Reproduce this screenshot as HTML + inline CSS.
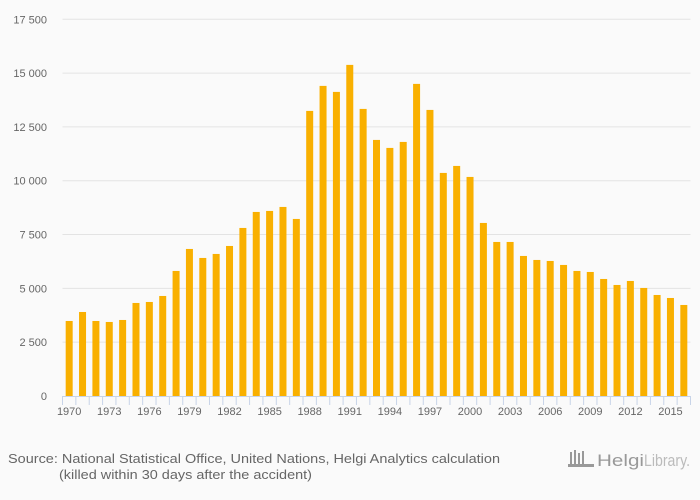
<!DOCTYPE html>
<html><head><meta charset="utf-8"><style>
html,body{margin:0;padding:0;background:#fafafa;}
svg{display:block;font-family:"Liberation Sans",sans-serif;}
</style></head><body>
<svg id="chart" width="700" height="500" viewBox="0 0 700 500">
<rect width="700" height="500" fill="#fafafa"/>
<g id="grid"></g>
<g id="yticks"></g>
<g id="bars"></g>
<g id="xaxis"></g>
<text x="8" y="463" font-size="13" fill="#666" textLength="492" lengthAdjust="spacingAndGlyphs">Source: National Statistical Office, United Nations, Helgi Analytics calculation</text>
<text x="59" y="479" font-size="13" fill="#666" textLength="253" lengthAdjust="spacingAndGlyphs">(killed within 30 days after the accident)</text>
<g>
<g fill="#999"><rect x="570" y="452" width="2" height="14"/><rect x="574" y="450" width="2" height="16"/><rect x="578" y="453" width="2" height="13"/><rect x="582" y="451" width="2" height="15"/><rect x="568" y="464" width="26" height="3"/></g>
<text x="597" y="466" font-size="17" fill="#999" textLength="47" lengthAdjust="spacingAndGlyphs">Helgi</text>
<text x="644" y="466" font-size="17" fill="#bbb" textLength="46" lengthAdjust="spacingAndGlyphs">Library.</text>
</g>
</svg>
<script>
const years=[];for(let y=1970;y<=2016;y++)years.push(y);
const values=[3485,3903,3485,3439,3532,4322,4368,4647,5809,6831,6413,6599,6970,7807,8550,8597,8783,8225,13244,14406,14127,15382,13337,11896,11525,11803,14499,13290,10363,10688,10177,8039,7156,7156,6506,6320,6273,6088,5809,5762,5437,5158,5344,5019,4693,4554,4229];
const yTicks=[0,2500,5000,7500,10000,12500,15000,17500];
const yTickLabels=["0","2 500","5 000","7 500","10 000","12 500","15 000","17 500"];
const NS="http://www.w3.org/2000/svg";
const L=62.5,R=690.5,Y0=396,Y1=19.3,VMAX=17500;
const band=(R-L)/years.length;
const ys=v=>Y0-(v/VMAX)*(Y0-Y1);
const xs=i=>L+band*(i+0.5);
function mk(t,a,p){const e=document.createElementNS(NS,t);for(const k in a)e.setAttribute(k,a[k]);p.appendChild(e);return e;}
const grid=document.getElementById('grid'),yt=document.getElementById('yticks'),bars=document.getElementById('bars'),xa=document.getElementById('xaxis');
yTicks.forEach((v,i)=>{
 if(v>0){const g=mk('line',{x1:L,x2:R,y1:ys(v),y2:ys(v),stroke:'#e3e3e3','stroke-width':1},grid);
 
 }
 const t=mk('text',{x:47,y:ys(v)+4,'font-size':11,fill:'#666','text-anchor':'end'},yt);
 t.textContent=yTickLabels[i];
 
 
});
values.forEach((v,i)=>{
 const r=mk('rect',{x:xs(i)-3.5,y:ys(v),width:7,height:Y0-ys(v),fill:'#f9b000'},bars);
 
 
});
const ax=mk('line',{x1:L,x2:R,y1:Y0+0.5,y2:Y0+0.5,stroke:'#c8d4e8','stroke-width':1},xa);


for(let i=0;i<=years.length;i++){
 const x=L+band*i;
 const tk=mk('line',{x1:x,x2:x,y1:Y0,y2:Y0+9,stroke:'#c8d4e8','stroke-width':1},xa);
 
 
}
years.forEach((y,i)=>{
 if(i%3!==0)return;
 const t=mk('text',{x:xs(i),y:415,'font-size':11,fill:'#666','text-anchor':'middle'},xa);
 t.textContent=y;
 
 
});
</script>
</body></html>
